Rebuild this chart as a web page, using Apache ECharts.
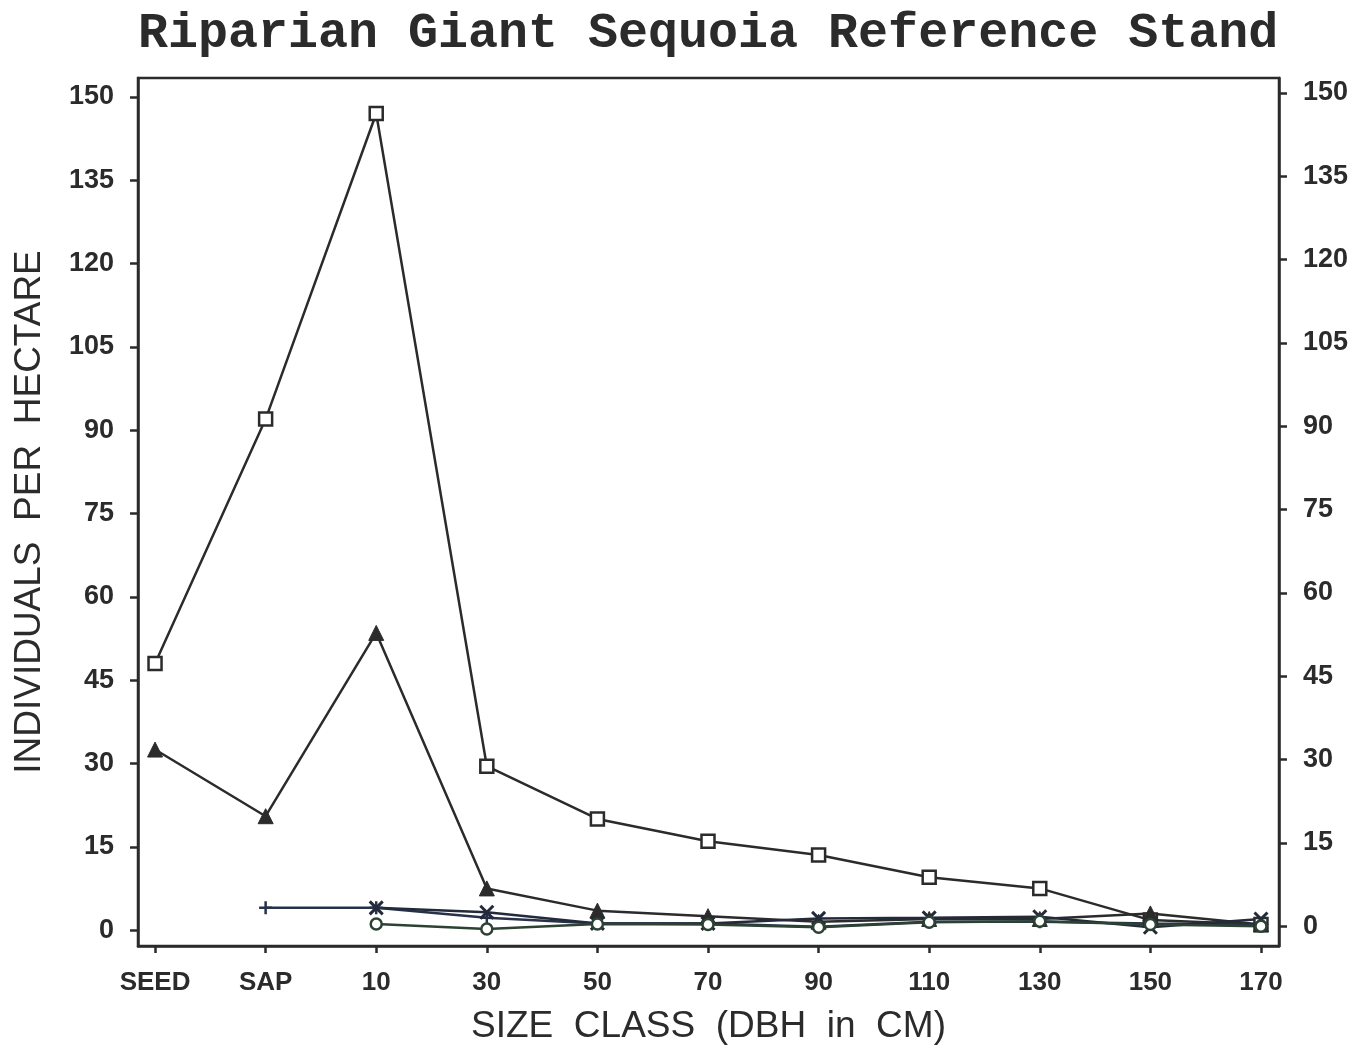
<!DOCTYPE html>
<html>
<head>
<meta charset="utf-8">
<script src="https://cdn.jsdelivr.net/npm/echarts@6/dist/echarts.min.js"></script>
<style>
  html, body { margin: 0; padding: 0; background: #fff; }
  #chart { width: 1368px; height: 1050px; }
</style>
</head>
<body>
<div id="chart"></div>
<script>
// size classes along the bottom
const sizeClasses = ['SEED', 'SAP', '10', '30', '50', '70', '90', '110', '130', '150', '170'];
const yTicks = [0, 15, 30, 45, 60, 75, 90, 105, 120, 135, 150];

// individuals per hectare
const squareSeries   = [48, 92, 147, 29.5, 20, 16, 13.5, 9.5, 7.5, 1.8, 1];
const triangleSeries = [32.5, 20.5, 53.5, 7.5, 3.5, 2.5, 1.5, 2, 2, 3, 1];
const plusSeries     = [null, 4, 4, 2.2, 1.2, 1.2, 0.6, 1.5, 1.5, 1.2, 1];
const crossSeries    = [null, null, 4, 3.2, 1.2, 1.2, 2.1, 2.2, 2.4, 0.5, 2];
const circleSeries   = [null, null, 1.1, 0.2, 1.1, 1, 0.5, 1.4, 1.6, 1, 0.7];

const ink = '#2b2b2b';

function pairs(arr) {
    return arr.map((v, i) => [i, v]).filter(p => p[1] !== null);
}

function lineSeries(name, values, symbol, size, style, color) {
    return {
        name: name,
        type: 'line',
        data: pairs(values),
        symbol: symbol,
        symbolSize: size,
        showAllSymbol: true,
        lineStyle: { color: color, width: 2.5 },
        itemStyle: Object.assign({ color: color, borderColor: color }, style),
        z: 3
    };
}

function sideAxis(pos, min, max) {
    return {
        type: 'value',
        position: pos,
        min: min,
        max: max,
        axisLine: { show: true, onZero: false, lineStyle: { color: ink, width: 2.5 } },
        axisTick: {
            show: true,
            customValues: yTicks,
            length: 8,
            lineStyle: { color: ink, width: 2.5 }
        },
        axisLabel: {
            customValues: yTicks,
            margin: 24,
            fontFamily: 'Liberation Sans',
            fontWeight: 'bold',
            fontSize: 27,
            color: ink
        },
        splitLine: { show: false }
    };
}

const chart = echarts.init(document.getElementById('chart'));

const leftAxis = sideAxis('left', -2.867, 153.4);
leftAxis.name = 'INDIVIDUALS  PER  HECTARE';
leftAxis.nameLocation = 'middle';
leftAxis.nameRotate = 90;
leftAxis.nameGap = 90;
leftAxis.nameTextStyle = { fontFamily: 'Liberation Sans', fontSize: 37, color: ink };

const rightAxis = sideAxis('right', -3.584, 152.7);

const option = {
    backgroundColor: '#fff',
    animation: false,
    title: {
        text: 'Riparian Giant Sequoia Reference Stand',
        left: 133,
        top: 4,
        textStyle: {
            fontFamily: 'Liberation Mono',
            fontWeight: 'bold',
            fontSize: 50,
            color: ink
        }
    },
    grid: {
        left: 138,
        right: 89,
        top: 78,
        bottom: 100,
        show: true,
        borderColor: ink,
        borderWidth: 2.5,
        backgroundColor: 'transparent'
    },
    xAxis: {
        type: 'value',
        min: -0.154,
        max: 10.163,
        name: 'SIZE  CLASS  (DBH  in  CM)',
        nameLocation: 'middle',
        nameGap: 62,
        nameTextStyle: {
            fontFamily: 'Liberation Sans',
            fontSize: 37,
            color: ink
        },
        axisLine: { show: true, onZero: false, lineStyle: { color: ink, width: 2.5 } },
        axisTick: {
            show: true,
            customValues: sizeClasses.map((_, i) => i),
            length: 7,
            lineStyle: { color: ink, width: 2.5 }
        },
        axisLabel: {
            customValues: sizeClasses.map((_, i) => i),
            formatter: v => sizeClasses[Math.round(v)],
            margin: 24,
            fontFamily: 'Liberation Sans',
            fontWeight: 'bold',
            fontSize: 26,
            color: ink
        },
        splitLine: { show: false }
    },
    yAxis: [leftAxis, rightAxis],
    series: [
        lineSeries('squares', squareSeries, 'rect', 13, { color: '#fff', borderWidth: 2.5 }, ink),
        lineSeries('triangles', triangleSeries, 'triangle', 15, {}, ink),
        lineSeries('plus', plusSeries, 'path://M0,5L10,5M5,0L5,10', 13, { borderWidth: 2.5 }, '#27324a'),
        lineSeries('cross', crossSeries, 'path://M0,0L10,10M10,0L0,10', 13, { borderWidth: 3 }, '#232a3a'),
        lineSeries('circles', circleSeries, 'circle', 11, { color: '#fff', borderWidth: 2.5 }, '#2c4233')
    ]
};

chart.setOption(option);
</script>
</body>
</html>
